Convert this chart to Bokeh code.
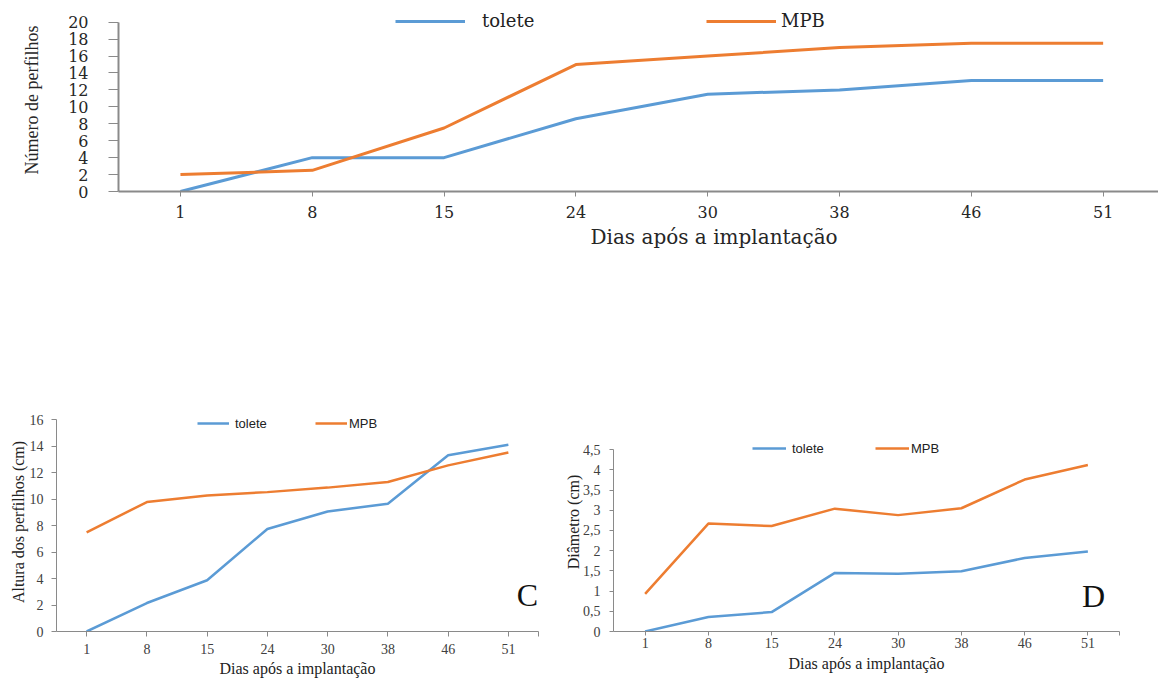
from bokeh.plotting import figure
from bokeh.models import FixedTicker, Legend, LegendItem, Label, Range1d, Title
from bokeh.layouts import column, row
from bokeh.embed import file_html
from bokeh.resources import INLINE

# ---------------- data ----------------
days = ["1", "8", "15", "24", "30", "38", "46", "51"]
series_names = ["tolete", "MPB"]

top_tolete = [0, 4, 4, 8.6, 11.5, 12, 13.1, 13.1]
top_mpb = [2, 2.5, 7.5, 15, 16, 17, 17.5, 17.5]

c_tolete = [0, 2.15, 3.87, 7.74, 9.06, 9.64, 13.3, 14.1]
c_mpb = [7.49, 9.77, 10.27, 10.52, 10.86, 11.29, 12.54, 13.51]

d_tolete = [0, 0.36, 0.48, 1.45, 1.43, 1.49, 1.82, 1.98]
d_mpb = [0.93, 2.67, 2.61, 3.04, 2.88, 3.05, 3.76, 4.12]

top_yticks = [0, 2, 4, 6, 8, 10, 12, 14, 16, 18, 20]
c_yticks = [0, 2, 4, 6, 8, 10, 12, 14, 16]
d_yticks = [0, 0.5, 1, 1.5, 2, 2.5, 3, 3.5, 4, 4.5]
d_ytick_labels = ["0", "0,5", "1", "1,5", "2", "2,5", "3", "3,5", "4", "4,5"]

xlabel = "Dias após a implantação"
BLUE = "#5B9BD5"
ORANGE = "#ED7D31"
AXIS = "#8a8a8a"

idx = list(range(len(days)))


def style_axes(p, font, tick_size, title_size, tick_color, title_color):
    for ax in (p.xaxis[0], p.yaxis[0]):
        ax.axis_line_color = AXIS
        ax.major_tick_line_color = AXIS
        ax.minor_tick_line_color = None
        ax.major_tick_in = 0
        ax.major_label_text_font = font
        ax.major_label_text_font_size = tick_size
        ax.major_label_text_color = tick_color
        ax.axis_label_text_font = font
        ax.axis_label_text_font_size = title_size
        ax.axis_label_text_font_style = "normal"
        ax.axis_label_text_color = title_color
    p.xgrid.visible = False
    p.ygrid.visible = False
    p.outline_line_color = None


def add_legend(p, renderers, xs, y, font, size, glyph_w, standoffs):
    for r, name, x, so in zip(renderers, series_names, xs, standoffs):
        lg = Legend(items=[LegendItem(label=name, renderers=[r])],
                    location=(x, y), orientation="horizontal",
                    glyph_width=glyph_w, glyph_height=16, label_height=16,
                    label_standoff=so, padding=0, margin=0, spacing=0,
                    border_line_alpha=0, background_fill_alpha=0,
                    label_text_font=font, label_text_font_size=size,
                    label_text_color="#222222")
        p.add_layout(lg)


# ---------------- top panel ----------------
p_top = figure(width=1158, height=400, output_backend="svg", toolbar_location=None,
               x_range=Range1d(-0.47, 7.42), y_range=Range1d(0, 21.62),
               min_border_left=118, min_border_right=0, min_border_top=8,
               min_border_bottom=209)
r1 = p_top.line(idx, top_tolete, line_color=BLUE, line_width=3)
r2 = p_top.line(idx, top_mpb, line_color=ORANGE, line_width=3)
style_axes(p_top, "DejaVu Serif", "16px", "19px", "#262626", "#262626")
p_top.xaxis.ticker = FixedTicker(ticks=idx)
p_top.xaxis.major_label_overrides = {i: d for i, d in zip(idx, days)}
p_top.yaxis.ticker = FixedTicker(ticks=top_yticks)
p_top.yaxis.bounds = (0, 20)
p_top.yaxis.axis_label = "Número de perfilhos"
p_top.yaxis.axis_label_text_font = "Liberation Serif"
p_top.yaxis.axis_label_text_font_size = "18px"
p_top.xaxis.major_tick_out = 5
p_top.yaxis.major_tick_out = 10
p_top.xaxis.major_label_standoff = 9
p_top.yaxis.major_label_standoff = 20
p_top.yaxis.axis_label_standoff = 23
p_top.xaxis.axis_line_width = 2
p_top.yaxis.axis_line_width = 2
p_top.add_layout(Title(text=xlabel, align="left", offset=472, standoff=4,
                       text_font="DejaVu Serif", text_font_size="20px",
                       text_font_style="normal", text_color="#262626"), "below")
add_legend(p_top, [r1, r2], [277, 588], 160, "DejaVu Serif", "18px", 70, [17, 5])

ov = {i: d for i, d in zip(idx, days)}
ov[7.5] = ""

# ---------------- panel C ----------------
p_c = figure(width=550, height=279, output_backend="svg", toolbar_location=None,
             x_range=Range1d(-0.5, 7.5), y_range=Range1d(0, 16.53),
             min_border_left=56, min_border_right=12, min_border_top=12,
             min_border_bottom=48)
rc1 = p_c.line(idx, c_tolete, line_color=BLUE, line_width=2.5)
rc2 = p_c.line(idx, c_mpb, line_color=ORANGE, line_width=2.5)
style_axes(p_c, "Liberation Serif", "14px", "16px", "#404040", "#222222")
p_c.xaxis.ticker = FixedTicker(ticks=idx + [7.5])
p_c.xaxis.major_label_overrides = ov
p_c.yaxis.ticker = FixedTicker(ticks=c_yticks)
p_c.yaxis.bounds = (0, 16)
p_c.xaxis.axis_label = xlabel
p_c.yaxis.axis_label = "Altura dos perfilhos (cm)"
p_c.xaxis.major_tick_out = 5
p_c.yaxis.major_tick_out = 5
p_c.xaxis.major_label_standoff = 7
p_c.yaxis.major_label_standoff = 8
p_c.xaxis.axis_label_standoff = 3
p_c.yaxis.axis_label_standoff = 0
add_legend(p_c, [rc1, rc2], [141, 259], 200, "Liberation Sans", "13px", 32, [6, 2])
p_c.add_layout(Label(x=471, y=37, x_units="screen", y_units="screen", text="C",
                     text_font="Liberation Serif", text_font_size="32px",
                     text_align="center", text_baseline="middle", text_color="#111111"))

# ---------------- panel D ----------------
p_d = figure(width=608, height=279, output_backend="svg", toolbar_location=None,
             x_range=Range1d(-0.5, 7.5), y_range=Range1d(0, 5.42),
             min_border_left=63, min_border_right=39, min_border_top=12,
             min_border_bottom=48)
rd1 = p_d.line(idx, d_tolete, line_color=BLUE, line_width=2.5)
rd2 = p_d.line(idx, d_mpb, line_color=ORANGE, line_width=2.5)
style_axes(p_d, "Liberation Serif", "14px", "16px", "#404040", "#222222")
p_d.xaxis.ticker = FixedTicker(ticks=idx + [7.5])
p_d.xaxis.major_label_overrides = ov
p_d.yaxis.ticker = FixedTicker(ticks=d_yticks)
p_d.yaxis.bounds = (0, 4.5)
p_d.yaxis.major_label_overrides = {t: s for t, s in zip(d_yticks, d_ytick_labels)}
p_d.xaxis.axis_label = xlabel
p_d.yaxis.axis_label = "Diâmetro (cm)"
p_d.xaxis.major_tick_out = 4
p_d.yaxis.major_tick_out = 4
p_d.xaxis.major_label_standoff = 2
p_d.yaxis.major_label_standoff = 9
p_d.xaxis.axis_label_standoff = 4
p_d.yaxis.axis_label_standoff = -2
add_legend(p_d, [rd1, rd2], [139, 262], 175, "Liberation Sans", "13px", 34, [6, 2])
p_d.add_layout(Label(x=480, y=36, x_units="screen", y_units="screen", text="D",
                     text_font="Liberation Serif", text_font_size="32px",
                     text_align="center", text_baseline="middle", text_color="#111111"))

layout = column(p_top, row(p_c, p_d))
open("out.html", "w").write(file_html(layout, INLINE))
